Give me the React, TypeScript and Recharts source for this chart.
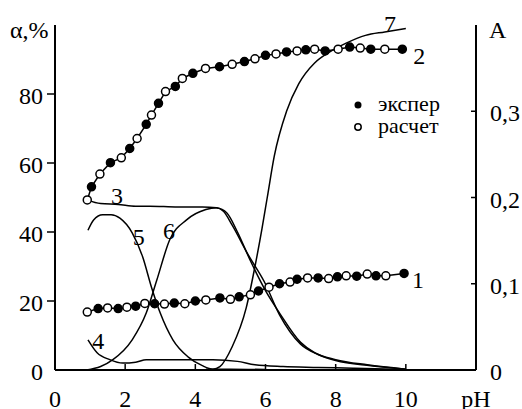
import {
  LineChart,
  Line,
  XAxis,
  YAxis,
  Legend,
  ReferenceDot,
} from "recharts";

// left axis, α %: curves 1 and 2 (even index = расчет (open), odd = экспер (filled))
const curve2 = [
  [0.92, 49.3], [1.04, 53.1], [1.28, 56.8], [1.58, 60.1], [1.89, 61.5], [2.13, 64.2],
  [2.34, 67.1], [2.6, 71.2], [2.75, 73.9], [2.95, 77.3], [3.15, 80.7], [3.43, 82.2],
  [3.63, 84.5], [3.93, 86], [4.29, 87.4], [4.69, 87.9], [5.05, 88.6], [5.4, 89.4],
  [5.7, 90.2], [6.0, 91.2], [6.3, 91.6], [6.6, 92.2], [6.9, 92.5], [7.15, 92.8],
  [7.4, 93], [7.7, 92.5], [8.07, 93], [8.4, 93.6], [8.7, 93.3], [9.0, 93],
  [9.4, 93], [9.9, 93],
];
const curve1 = [
  [0.92, 16.8], [1.23, 17.8], [1.5, 18], [1.8, 17.8], [2.05, 18.2], [2.3, 18.5],
  [2.56, 19.3], [2.84, 19.2], [3.12, 19.1], [3.4, 19.4], [3.7, 19.2], [4.0, 20],
  [4.3, 20.3], [4.7, 20.9], [5.0, 20.5], [5.25, 21.2], [5.57, 21.8], [5.8, 22.9],
  [6.1, 24], [6.4, 25], [6.7, 25.5], [6.9, 26.3], [7.2, 26.7], [7.5, 26.7],
  [7.8, 26.5], [8.05, 27], [8.3, 27.3], [8.6, 27.2], [8.9, 27.8], [9.15, 27.3],
  [9.43, 27.3], [9.95, 28],
];

// right axis, A: curves 3–7
const curve3 = [
  [0.92, 0.197], [1.3, 0.193], [1.8, 0.192], [2.3, 0.19], [2.7, 0.19], [3.5, 0.189],
  [4.2, 0.189], [4.6, 0.188], [4.9, 0.182], [5.2, 0.16], [5.6, 0.124], [6.0, 0.092],
  [6.4, 0.066], [7.0, 0.032], [7.4, 0.02], [8.0, 0.012], [8.9, 0.006], [10, 0.001],
];
const curve4 = [
  [0.94, 0.035], [1.2, 0.02], [1.56, 0.012], [1.93, 0.008], [2.3, 0.009], [2.6, 0.012],
  [3.5, 0.012], [4.5, 0.012], [5.2, 0.01], [5.7, 0.006], [6.5, 0.004], [7.5, 0.003],
  [8.5, 0.002], [10, 0.0005],
];
const curve5 = [
  [0.94, 0.162], [1.1, 0.174], [1.36, 0.18], [1.6, 0.18], [1.85, 0.176], [2.2, 0.159],
  [2.5, 0.131], [2.75, 0.096], [3.0, 0.066], [3.36, 0.035], [3.8, 0.015], [4.2, 0.005],
  [4.5, 0.001], [5.0, 0.001], [6.0, 0.0005],
];
const curve6 = [
  [0.9, 0], [1.3, 0.004], [1.65, 0.012], [2.2, 0.035], [2.6, 0.066], [2.9, 0.104],
  [3.27, 0.151], [3.75, 0.174], [4.3, 0.186], [4.6, 0.188], [4.8, 0.184], [5.05, 0.168],
  [5.5, 0.134], [5.97, 0.102], [6.4, 0.064], [7.0, 0.03], [7.5, 0.018], [8.0, 0.011],
  [9.0, 0.005], [10, 0.001],
];
const curve7 = [
  [4.3, 0.001], [4.5, 0.001], [4.7, 0.004], [5.05, 0.027], [5.45, 0.072], [5.7, 0.12],
  [5.9, 0.164], [6.05, 0.2], [6.25, 0.248], [6.6, 0.3], [6.95, 0.332], [7.4, 0.356],
  [7.8, 0.368], [8.3, 0.379], [8.85, 0.388], [9.4, 0.392], [10, 0.396],
];

const xTicks = [0, 2, 4, 6, 8, 10, 12];
const leftTicks = [0, 20, 40, 60, 80];
const rightTicks = [0, 0.1, 0.2, 0.3];

// curve number labels: [text, pH, α %]
const curveLabels: [string, number, number][] = [
  ["7", 9.55, 100.3],
  ["2", 10.38, 91.3],
  ["1", 10.35, 26.1],
  ["3", 1.77, 50.7],
  ["5", 2.39, 38.6],
  ["6", 3.25, 40.3],
  ["4", 1.23, 8.7],
];

const toRows = (pts: number[][]) => pts.map(([x, y]) => ({ x, y }));

const FONT = "'Liberation Serif', serif";
const txt = { fontFamily: FONT, fontSize: 24, fill: "#000" };

function XTick({ x, y, payload }: any) {
  const v = payload.value;
  return (
    <g>
      {v > 0 && v <= 10 && <line x1={x} x2={x} y1={y} y2={y - 6} stroke="#000" strokeWidth={1.5} />}
      <text x={x} y={y + 37} textAnchor="middle" style={txt}>
        {v === 12 ? "pH" : v}
      </text>
    </g>
  );
}

function LeftTick({ x, y, payload }: any) {
  return (
    <g>
      {payload.value > 0 && <line x1={x} x2={x - 8} y1={y} y2={y} stroke="#000" strokeWidth={1.5} />}
      <text x={x - 12} y={y + 10} textAnchor="end" style={txt}>
        {payload.value}
      </text>
    </g>
  );
}

function RightTick({ x, y, payload }: any) {
  const v = payload.value;
  return (
    <g>
      {v > 0 && <line x1={x} x2={x - 5} y1={y} y2={y} stroke="#000" strokeWidth={1.5} />}
      <text x={x + 14} y={y + 10} textAnchor="start" style={txt}>
        {v === 0 ? "0" : v.toFixed(1).replace(".", ",")}
      </text>
    </g>
  );
}

function PointDot({ cx, cy, index }: any) {
  return (
    <circle
      key={index}
      cx={cx}
      cy={cy}
      r={4}
      fill={index % 2 ? "#000" : "#fff"}
      stroke="#000"
      strokeWidth={1.5}
    />
  );
}

function LegendBox() {
  const t = { fontFamily: FONT, fontSize: 22, fill: "#000" };
  return (
    <svg width={110} height={44} style={{ display: "block" }}>
      <circle cx={8} cy={10} r={3.5} fill="#000" />
      <text x={28} y={16} style={t}>экспер</text>
      <circle cx={8} cy={32} r={3.2} fill="#fff" stroke="#000" strokeWidth={1.5} />
      <text x={28} y={38} style={t}>расчет</text>
    </svg>
  );
}

export default function App() {
  const thin = { stroke: "#000", strokeWidth: 1.5, dot: false, isAnimationActive: false } as const;
  return (
    <div style={{ position: "absolute", left: 0, top: 0, background: "#fff" }}>
      <LineChart width={522} height={409} margin={{ top: 25, right: 0, bottom: 0, left: 0 }}>
        <XAxis
          dataKey="x"
          type="number"
          domain={[0, 12]}
          ticks={xTicks}
          tick={<XTick />}
          tickLine={false}
          tickSize={0}
          tickMargin={0}
          height={39}
          axisLine={{ stroke: "#000", strokeWidth: 2 }}
          allowDuplicatedCategory={false}
        />
        <YAxis
          yAxisId="L"
          domain={[0, 100]}
          ticks={leftTicks}
          tick={<LeftTick />}
          tickLine={false}
          tickSize={0}
          tickMargin={0}
          width={55}
          axisLine={{ stroke: "#000", strokeWidth: 2 }}
        />
        <YAxis
          yAxisId="R"
          orientation="right"
          domain={[0, 0.4]}
          ticks={rightTicks}
          tick={<RightTick />}
          tickLine={false}
          tickSize={0}
          tickMargin={0}
          width={46}
          axisLine={{ stroke: "#000", strokeWidth: 2 }}
        />
        <Legend
          layout="vertical"
          align="center"
          verticalAlign="middle"
          content={<LegendBox />}
          wrapperStyle={{ position: "absolute", left: 350, top: 95, width: 110 }}
        />
        <Line yAxisId="R" data={toRows(curve3)} dataKey="y" type="monotone" {...thin} />
        <Line yAxisId="R" data={toRows(curve4)} dataKey="y" type="monotone" {...thin} />
        <Line yAxisId="R" data={toRows(curve5)} dataKey="y" type="monotone" {...thin} />
        <Line yAxisId="R" data={toRows(curve6)} dataKey="y" type="monotone" {...thin} />
        <Line yAxisId="R" data={toRows(curve7)} dataKey="y" type="monotone" {...thin} />
        <Line
          yAxisId="L"
          data={toRows(curve1)}
          dataKey="y"
          type="linear"
          stroke="#000"
          strokeWidth={1.5}
          dot={<PointDot />}
          isAnimationActive={false}
        />
        <Line
          yAxisId="L"
          data={toRows(curve2)}
          dataKey="y"
          type="linear"
          stroke="#000"
          strokeWidth={1.5}
          dot={<PointDot />}
          isAnimationActive={false}
        />
        {curveLabels.map(([t, x, y]) => (
          <ReferenceDot
            key={t}
            yAxisId="L"
            x={x}
            y={y}
            r={0}
            ifOverflow="visible"
            label={{ value: t, position: "center", style: txt }}
          />
        ))}
        <text x={10} y={38} style={txt}>α,%</text>
        <text x={489} y={38} style={txt}>A</text>
      </LineChart>
    </div>
  );
}
